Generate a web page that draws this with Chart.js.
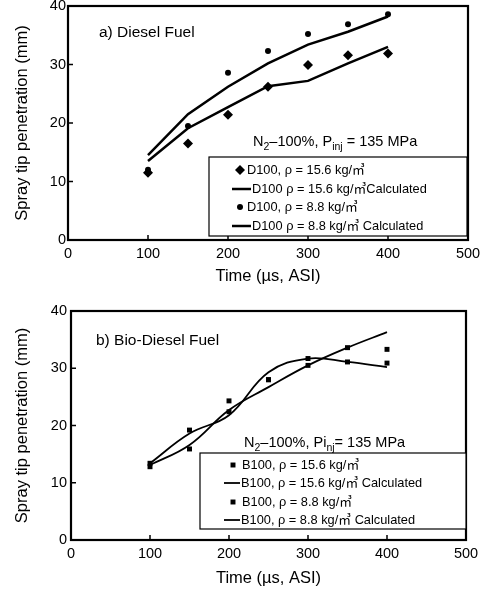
<!DOCTYPE html>
<html>
<head>
<meta charset="utf-8">
<script src="https://cdn.jsdelivr.net/npm/chart.js@4.4.1/dist/chart.umd.min.js"></script>
<style>
  body { margin: 0; background: #fff; }
  .box { position: absolute; left: 0; width: 481px; height: 296px; }
</style>
</head>
<body>
<div class="box" style="top:0"><canvas id="chartA" width="481" height="296"></canvas></div>
<div class="box" style="top:296px"><canvas id="chartB" width="481" height="296"></canvas></div>
<script>
// time after start of injection (us)
const timeUs = [100, 150, 200, 250, 300, 350, 400];
const xTicks = [0, 100, 200, 300, 400, 500];
const yTicks = [0, 10, 20, 30, 40];

// a) Diesel
const d100Rho156 = [11.5, 16.5, 21.4, 26.2, 29.9, 31.6, 31.9];
const d100Rho156Calc = [13.5, 19.1, 22.7, 26.3, 27.2, 30.2, 33.0];
const d100Rho88 = [12.0, 19.5, 28.6, 32.3, 35.2, 36.9, 38.6];
const d100Rho88Calc = [14.5, 21.5, 26.2, 30.2, 33.4, 35.6, 38.2];

// b) Bio-diesel
const b100Rho156 = [12.8, 15.9, 24.3, 28.0, 30.5, 33.6, 33.3];
const b100Rho156Calc = [13.1, 16.6, 22.7, 26.7, 30.5, 33.6, 36.3];
const b100Rho88 = [13.4, 19.2, 22.4, 28.0, 31.7, 31.1, 30.9];
const b100Rho88Calc = [13.4, 18.6, 21.8, 29.3, 31.7, 31.1, 30.2];

const FONT = 'Arial, "Liberation Sans", "Noto Sans CJK KR", sans-serif';

function xy(ys) {
  return timeUs.map((t, i) => ({ x: t, y: ys[i] }));
}

function pts(label, ys, style, r) {
  return { label: label, data: xy(ys), showLine: false, pointStyle: style,
    pointRadius: r, backgroundColor: '#000', borderColor: '#000', borderWidth: 0 };
}
function curve(label, ys, width, tension) {
  return { label: label, data: xy(ys), showLine: true, pointRadius: 0,
    borderColor: '#000', borderWidth: width, tension: tension };
}

// frame, inward ticks, panel labels and the boxed legend
const decor = {
  id: 'decor',
  afterDraw(chart, args, o) {
    const ctx = chart.ctx, a = chart.chartArea;
    const xs = chart.scales.x, ys = chart.scales.y;
    ctx.save();
    ctx.strokeStyle = '#000';
    ctx.lineWidth = 1.5;
    xTicks.forEach(v => {
      const px = xs.getPixelForValue(v);
      ctx.beginPath(); ctx.moveTo(px, a.bottom); ctx.lineTo(px, a.bottom - 5); ctx.stroke();
    });
    yTicks.forEach(v => {
      const py = ys.getPixelForValue(v);
      ctx.beginPath(); ctx.moveTo(a.left, py); ctx.lineTo(a.left + 5, py); ctx.stroke();
    });
    ctx.lineWidth = 2.2;
    ctx.strokeRect(a.left, a.top, a.right - a.left, a.bottom - a.top);

    ctx.fillStyle = '#000';
    ctx.textBaseline = 'middle';
    ctx.font = '15.5px ' + FONT;
    ctx.fillText(o.title, o.titleX, o.titleY);

    // condition label with subscripts
    let x = o.condX;
    o.cond.forEach(p => {
      ctx.font = (p[1] ? '10.5px ' : '14.5px ') + FONT;
      const yy = p[1] ? o.condY + 5 : o.condY;
      ctx.fillText(p[0], x, yy);
      x += ctx.measureText(p[0]).width;
    });

    // legend
    const L = o.legend;
    ctx.lineWidth = 1.2;
    ctx.fillStyle = '#fff';
    ctx.fillRect(L.x, L.y, L.w, L.h);
    ctx.strokeRect(L.x, L.y, L.w, L.h);
    ctx.fillStyle = '#000';
    ctx.font = '12.8px ' + FONT;
    chart.data.datasets.forEach((ds, i) => {
      const ry = L.rows[i];
      if (ds.showLine) {
        ctx.lineWidth = ds.borderWidth;
        ctx.beginPath(); ctx.moveTo(L.lineX1, ry); ctx.lineTo(L.lineX2, ry); ctx.stroke();
        ctx.fillText(ds.label, L.lineX2 + 1, ry);
      } else {
        Chart.helpers.drawPoint(ctx, { pointStyle: ds.pointStyle, radius: ds.pointRadius,
          rotation: 0, borderWidth: 0 }, L.markX, ry);
        ctx.fillText(ds.label, L.textX, ry);
      }
    });
    ctx.restore();
  }
};

function makeChart(id, datasets, lay, deco) {
  return new Chart(document.getElementById(id), {
    type: 'scatter',
    data: { datasets: datasets },
    plugins: [decor],
    options: {
      responsive: false,
      animation: false,
      layout: { padding: { top: lay.top, right: lay.right, bottom: 0, left: 0 } },
      plugins: { legend: { display: false }, tooltip: { enabled: false }, decor: deco },
      scales: {
        x: {
          type: 'linear', min: 0, max: 500,
          afterFit(s) { s.height = lay.xh; s.paddingLeft = 0; s.paddingRight = 0; },
          afterBuildTicks(s) { s.ticks = xTicks.map(v => ({ value: v })); },
          grid: { display: false, drawTicks: false },
          border: { display: false },
          ticks: { color: '#000', padding: 5, font: { family: FONT, size: 14.5 } },
          title: { display: true, text: 'Time (\u00b5s, ASI)', color: '#000',
            padding: { top: 4, bottom: lay.tb }, font: { family: FONT, size: 16.5 } }
        },
        y: {
          type: 'linear', min: 0, max: 40,
          afterFit(s) { s.width = lay.left; s.paddingTop = 0; s.paddingBottom = 0; },
          afterBuildTicks(s) { s.ticks = yTicks.map(v => ({ value: v })); },
          grid: { display: false, drawTicks: false },
          border: { display: false },
          ticks: { color: '#000', padding: lay.yp, font: { family: FONT, size: 14.5 } },
          title: { display: true, text: 'Spray tip penetration (mm)', color: '#000',
            padding: { top: 13, bottom: 4 }, font: { family: FONT, size: 16.5 } }
        }
      }
    }
  });
}

makeChart('chartA', [
  pts('D100, \u03c1 = 15.6 kg/\u33a5', d100Rho156, 'rectRot', 5),
  curve('D100 \u03c1 = 15.6 kg/\u33a5Calculated', d100Rho156Calc, 2.5, 0),
  pts('D100, \u03c1 = 8.8 kg/\u33a5', d100Rho88, 'circle', 3),
  curve('D100 \u03c1 = 8.8 kg/\u33a5 Calculated', d100Rho88Calc, 2.5, 0)
], { top: 6, right: 13, left: 68, xh: 56, tb: 10, yp: 2 }, {
  title: 'a) Diesel Fuel', titleX: 99, titleY: 33,
  cond: [['N'], ['2', 1], ['\u2013100%, P'], ['inj', 1], [' = 135 MPa']], condX: 253, condY: 142,
  legend: { x: 209, y: 157, w: 258, h: 79, rows: [170, 189, 207, 226],
    markX: 240, textX: 247, lineX1: 232, lineX2: 251 }
});

makeChart('chartB', [
  pts('B100, \u03c1 = 15.6 kg/\u33a5', b100Rho156, 'rect', 3.5),
  curve('B100, \u03c1 = 15.6 kg/\u33a5 Calculated', b100Rho156Calc, 1.8, 0.4),
  pts('B100, \u03c1 = 8.8 kg/\u33a5', b100Rho88, 'rect', 3.5),
  curve('B100, \u03c1 = 8.8 kg/\u33a5 Calculated', b100Rho88Calc, 1.8, 0.4)
], { top: 15, right: 15, left: 71, xh: 52, tb: 4, yp: 4 }, {
  title: 'b) Bio-Diesel Fuel', titleX: 96, titleY: 45,
  cond: [['N'], ['2', 1], ['\u2013100%, Pi'], ['nj', 1], ['= 135 MPa']], condX: 244, condY: 147,
  legend: { x: 200, y: 157, w: 266, h: 76, rows: [169, 187, 206, 224],
    markX: 233, textX: 242, lineX1: 224, lineX2: 240 }
});
</script>
</body>
</html>
